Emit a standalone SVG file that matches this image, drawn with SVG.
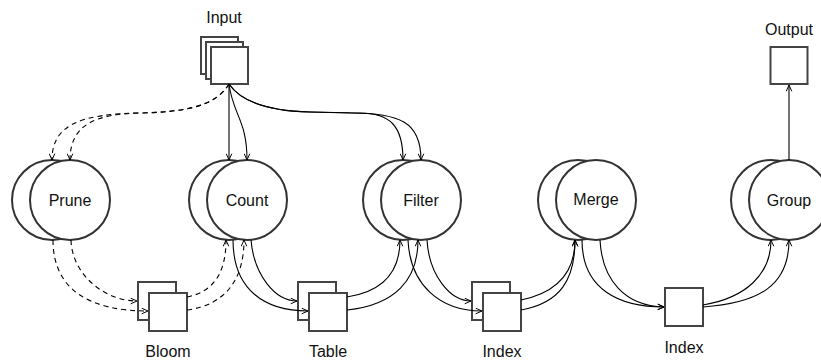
<svg xmlns="http://www.w3.org/2000/svg" width="821" height="363" viewBox="0 0 821 363">
<style>
.c{fill:#fff;stroke:#333;stroke-width:2}
.s{fill:#fff;stroke:#444;stroke-width:2}
.t{font-family:"Liberation Sans",Arial,sans-serif;font-size:16px;fill:#111;text-anchor:middle}
.e{fill:none;stroke:#000;stroke-width:1.1;marker-end:url(#a)}
.d{stroke-dasharray:5,4}
</style>
<defs>
<marker id="a" viewBox="0 0 10 10" refX="10" refY="5" markerWidth="7" markerHeight="7" markerUnits="userSpaceOnUse" orient="auto">
<path d="M1,1 L10,5 L1,9" fill="none" stroke="#000" stroke-width="1.4"/>
</marker>
</defs>
<g id="input">
<rect class="s" x="201" y="37" width="37" height="37"/>
<rect class="s" x="206" y="42" width="37" height="37"/>
<rect class="s" x="211" y="47" width="37" height="37"/>
<text class="t" x="224" y="23">Input</text>
</g>
<g id="output">
<rect class="s" x="770.5" y="47" width="37" height="37"/>
<text class="t" x="789" y="35">Output</text>
</g>
<g id="prune">
<circle class="c" cx="52" cy="200" r="40"/>
<circle class="c" cx="70" cy="200" r="40"/>
<text class="t" x="70" y="206">Prune</text>
</g>
<g id="count">
<circle class="c" cx="229" cy="200" r="40"/>
<circle class="c" cx="247" cy="200" r="40"/>
<text class="t" x="247" y="206">Count</text>
</g>
<g id="filter">
<circle class="c" cx="403" cy="200" r="40"/>
<circle class="c" cx="421" cy="200" r="40"/>
<text class="t" x="421" y="206">Filter</text>
</g>
<g id="merge">
<circle class="c" cx="578" cy="200" r="40"/>
<circle class="c" cx="596" cy="200" r="40"/>
<text class="t" x="596" y="205">Merge</text>
</g>
<g id="group">
<circle class="c" cx="771" cy="200" r="40"/>
<circle class="c" cx="789" cy="200" r="40"/>
<text class="t" x="789" y="206">Group</text>
</g>
<g id="bloom">
<rect class="s" x="138" y="282" width="38" height="38"/>
<rect class="s" x="149" y="293" width="38" height="38"/>
<text class="t" x="168" y="357">Bloom</text>
</g>
<g id="table">
<rect class="s" x="298" y="282" width="38" height="38"/>
<rect class="s" x="309" y="293" width="38" height="38"/>
<text class="t" x="328" y="357">Table</text>
</g>
<g id="index1">
<rect class="s" x="472" y="282" width="38" height="38"/>
<rect class="s" x="483" y="293" width="38" height="38"/>
<text class="t" x="502" y="357">Index</text>
</g>
<g id="index2">
<rect class="s" x="665" y="288" width="38" height="38"/>
<text class="t" x="684" y="353">Index</text>
</g>
<g id="connectors">
<path class="e d" d="M229,84 C215,108 180,112 140,113 C80,114 52,125 52,160"/>
<path class="e d" d="M229,84 C215,108 180,112 140,113 C95,114 70,125 70,160"/>
<path class="e" d="M229,84 L229,160"/>
<path class="e" d="M229,84 C233,115 247,120 247,160"/>
<path class="e" d="M229,84 C240,100 265,111 310,112 L360,113 C390,113 403,126 403,160"/>
<path class="e" d="M229,84 C240,100 265,111 310,112 L350,113 C400,113 421,122 421,160"/>
<path class="e d" d="M53,240 C53,290 90,311 148,311"/>
<path class="e d" d="M71,240 C72,275 105,301 137,301"/>
<path class="e d" d="M187,297 C212,292 226,275 226,240"/>
<path class="e d" d="M187,310 C225,305 244,280 244,240"/>
<path class="e" d="M233,240 C233,290 265,311 308,311"/>
<path class="e" d="M251,240 C254,275 275,301 297,301"/>
<path class="e" d="M347,297 C380,292 400,275 400,240"/>
<path class="e" d="M347,310 C395,305 418,280 418,240"/>
<path class="e" d="M408,240 C410,285 440,311 482,311"/>
<path class="e" d="M427,240 C429,275 450,301 471,301"/>
<path class="e" d="M521,300 C555,293 575,275 575,240"/>
<path class="e" d="M521,310 C560,303 575,280 575,240"/>
<path class="e" d="M582,240 C582,290 620,307 664,307"/>
<path class="e" d="M600,240 C602,280 625,306 664,307"/>
<path class="e" d="M703,305 C745,298 771,275 771,240"/>
<path class="e" d="M703,307 C760,303 789,285 789,240"/>
<path class="e" d="M789,160 L789,85"/>
</g>
</svg>
